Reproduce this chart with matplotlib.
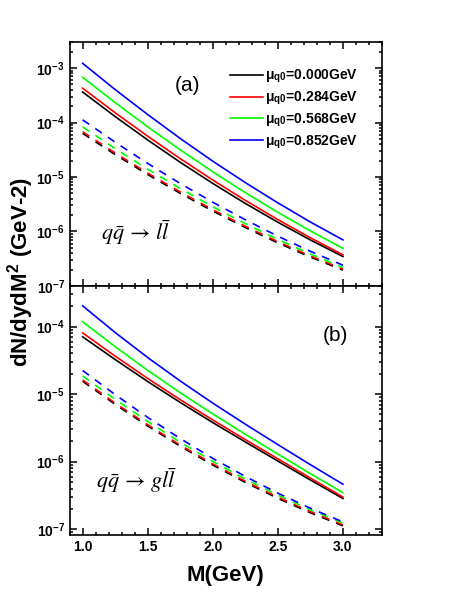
import matplotlib
matplotlib.use('Agg')
import matplotlib.pyplot as plt
from matplotlib.ticker import MultipleLocator, FormatStrFormatter, LogLocator, NullFormatter

plt.rcParams['font.family'] = ['Liberation Sans', 'DejaVu Sans']
plt.rcParams['font.weight'] = 'bold'
# math italics for the process labels: Times-like, not bold
plt.rcParams['mathtext.fontset'] = 'custom'
plt.rcParams['mathtext.rm'] = 'STIXGeneral:style=normal:weight=normal'
plt.rcParams['mathtext.it'] = 'STIXGeneral:style=italic:weight=normal'
plt.rcParams['mathtext.bf'] = 'STIXGeneral:style=normal:weight=bold'

M = [1.0, 1.25, 1.5, 1.75, 2.0, 2.25, 2.5, 2.75, 3.0]
mu_q0 = ['0.000', '0.284', '0.568', '0.852']
colors = ['black', '#FF0000', '#00FF00', '#0000FF']

# (a) q qbar -> l lbar, solid lines
a_solid_000 = [3.63e-4, 1.285e-4, 4.78e-5, 1.86e-5, 7.62e-6, 3.27e-6, 1.476e-6, 6.98e-7, 3.47e-7]
a_solid_284 = [4.27e-4, 1.51e-4, 5.60e-5, 2.17e-5, 8.79e-6, 3.72e-6, 1.65e-6, 7.66e-7, 3.72e-7]
a_solid_568 = [6.76e-4, 2.317e-4, 8.34e-5, 3.15e-5, 1.245e-5, 5.16e-6, 2.244e-6, 1.023e-6, 4.90e-7]
a_solid_852 = [1.22e-3, 4.02e-4, 1.40e-4, 5.09e-5, 1.95e-5, 7.89e-6, 3.35e-6, 1.49e-6, 7.0e-7]
# (a) dashed lines
a_dash_000 = [6.31e-5, 2.58e-5, 1.109e-5, 5.01e-6, 2.37e-6, 1.18e-6, 6.17e-7, 3.39e-7, 1.95e-7]
a_dash_284 = [6.76e-5, 2.76e-5, 1.18e-5, 5.32e-6, 2.51e-6, 1.247e-6, 6.49e-7, 3.56e-7, 2.04e-7]
a_dash_568 = [8.32e-5, 3.32e-5, 1.393e-5, 6.14e-6, 2.85e-6, 1.39e-6, 7.14e-7, 3.85e-7, 2.19e-7]
a_dash_852 = [1.12e-4, 4.35e-5, 1.77e-5, 7.60e-6, 3.44e-6, 1.64e-6, 8.18e-7, 4.32e-7, 2.40e-7]

# (b) q qbar -> g l lbar, solid lines
b_solid_000 = [7.06e-5, 3.25e-5, 1.538e-5, 7.52e-6, 3.79e-6, 1.957e-6, 1.021e-6, 5.35e-7, 2.85e-7]
b_solid_284 = [8.07e-5, 3.65e-5, 1.706e-5, 8.27e-6, 4.14e-6, 2.12e-6, 1.102e-6, 5.71e-7, 2.99e-7]
b_solid_568 = [1.18e-4, 5.04e-5, 2.25e-5, 1.05e-5, 5.09e-6, 2.544e-6, 1.294e-6, 6.645e-7, 3.47e-7]
b_solid_852 = [2.03e-4, 8.17e-5, 3.48e-5, 1.565e-5, 7.36e-6, 3.585e-6, 1.787e-6, 9.01e-7, 4.63e-7]
# (b) dashed lines
b_dash_000 = [1.55e-5, 7.05e-6, 3.37e-6, 1.69e-6, 8.91e-7, 4.93e-7, 2.86e-7, 1.75e-7, 1.12e-7]
b_dash_284 = [1.62e-5, 7.36e-6, 3.52e-6, 1.76e-6, 9.27e-7, 5.13e-7, 2.98e-7, 1.82e-7, 1.16e-7]
b_dash_568 = [1.86e-5, 8.34e-6, 3.93e-6, 1.94e-6, 1.01e-6, 5.53e-7, 3.19e-7, 1.93e-7, 1.23e-7]
b_dash_852 = [2.24e-5, 9.82e-6, 4.52e-6, 2.20e-6, 1.12e-6, 6.04e-7, 3.41e-7, 2.04e-7, 1.28e-7]

fig = plt.figure(figsize=(4.58, 5.92), dpi=100)
ax1 = fig.add_axes([0.152, 0.517, 0.682, 0.412])
ax2 = fig.add_axes([0.152, 0.0963, 0.682, 0.4207])

dash = (0, (4.8, 4.4))
panels = [
    (ax1, [a_solid_000, a_solid_284, a_solid_568, a_solid_852],
     [a_dash_000, a_dash_284, a_dash_568, a_dash_852]),
    (ax2, [b_solid_000, b_solid_284, b_solid_568, b_solid_852],
     [b_dash_000, b_dash_284, b_dash_568, b_dash_852]),
]
for ax, solids, dashes in panels:
    for i in range(4):
        ax.plot(M, solids[i], color=colors[i], lw=1.2,
                label=r'μ$_{\mathdefault{q0}}$=' + mu_q0[i] + 'GeV')
        ax.plot(M, dashes[i], color=colors[i], lw=1.2, linestyle=dash)
    ax.set_yscale('log')
    ax.set_xlim(0.9, 3.3)
    ax.xaxis.set_major_locator(MultipleLocator(0.5))
    ax.xaxis.set_minor_locator(MultipleLocator(0.1))
    ax.xaxis.set_major_formatter(FormatStrFormatter('%.1f'))
    ax.yaxis.set_major_locator(LogLocator(base=10, numticks=10))
    ax.yaxis.set_minor_locator(LogLocator(base=10, subs=range(2, 10), numticks=10))
    ax.yaxis.set_minor_formatter(NullFormatter())
    ax.tick_params(which='both', direction='in', top=True, right=True,
                   width=1.1, labelsize=10)
    ax.tick_params(which='major', length=5)
    ax.tick_params(which='minor', length=2.5)
    for s in ax.spines.values():
        s.set_linewidth(1.2)

ax1.set_ylim(1e-7, 3e-3)
ax2.set_ylim(8.2e-8, 4e-4)
ax1.tick_params(labelbottom=False)

ax1.text(0.335, 0.80, '(a)', transform=ax1.transAxes, fontsize=15, fontweight='normal')
ax2.text(0.81, 0.78, '(b)', transform=ax2.transAxes, fontsize=15, fontweight='normal')
ax1.text(0.1, 0.19, r'$q\bar{q}\,\rightarrow\,l\bar{l}$', transform=ax1.transAxes,
         fontsize=16, fontweight='normal')
ax2.text(0.085, 0.19, r'$q\bar{q}\,\rightarrow\,gl\bar{l}$', transform=ax2.transAxes,
         fontsize=16, fontweight='normal')

ax1.legend(loc='upper left', bbox_to_anchor=(0.513, 0.895), frameon=False,
           borderpad=0, borderaxespad=0, handlelength=2.4, handletextpad=0.1,
           labelspacing=0.3, fontsize=10)

ax2.set_xlabel('M(GeV)', fontsize=16, fontweight='bold', labelpad=8)
fig.text(0.046, 0.54, 'dN/dydM$^{\\mathdefault{2}}$ (GeV-2)', rotation=90,
         ha='center', va='center', fontsize=16)

fig.savefig('out.png', dpi=100)
